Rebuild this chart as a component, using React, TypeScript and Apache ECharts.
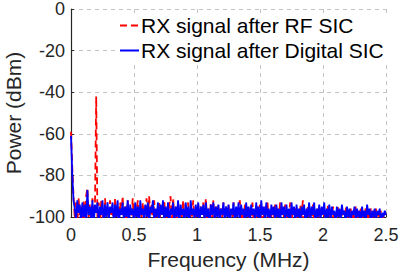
import React, { useEffect, useRef } from "react";
import * as echarts from "echarts";

// Frequency sample spacing (MHz) of both traces; first sample at 0 MHz
const freqStep = 0.01;

const xTicks = ["0", "0.5", "1", "1.5", "2", "2.5"];
const yTicks = ["0", "-20", "-40", "-60", "-80", "-100"];

const seriesNames = ["RX signal after RF SIC", "RX signal after Digital SIC"];

// RX signal after RF SIC (dBm), one value per 0.01 MHz, 0 .. 2.5 MHz
const rfSic = [
  -59, -76, -90, -101, -93, -104, -91, -99, -95, -103,
  -92, -102, -90, -86, -100, -94, -105, -91, -99, -96,
  -42, -101, -93, -104, -92, -98, -103, -91, -100, -95,
  -103, -92, -99, -94, -106, -91, -100, -96, -102, -93,
  -99, -90, -104, -95, -101, -92, -103, -97, -100, -91,
  -105, -94, -99, -92, -102, -96, -100, -93, -104, -95,
  -91, -103, -90, -99, -94, -105, -92, -101, -96, -100,
  -93, -104, -95, -99, -92, -102, -97, -100, -94, -90,
  -103, -91, -99, -95, -104, -93, -101, -96, -100, -92,
  -102, -94, -99, -93, -105, -96, -100, -92, -103, -97,
  -100, -94, -102, -95, -99, -93, -104, -91, -101, -96,
  -103, -93, -100, -92, -105, -95, -99, -94, -102, -96,
  -100, -93, -104, -95, -99, -94, -102, -97, -100, -93,
  -104, -96, -100, -95, -92, -101, -97, -103, -94, -100,
  -95, -102, -96, -100, -93, -104, -97, -101, -95, -99,
  -94, -103, -96, -100, -95, -102, -93, -104, -97, -100,
  -95, -101, -94, -103, -96, -100, -93, -105, -96, -100,
  -94, -102, -97, -99, -93, -104, -96, -100, -95, -101,
  -96, -103, -94, -100, -92, -104, -97, -100, -95, -102,
  -96, -100, -94, -103, -97, -101, -95, -104, -96, -100,
  -95, -102, -97, -100, -94, -103, -96, -100, -95, -102,
  -97, -101, -95, -104, -96, -100, -97, -103, -95, -101,
  -97, -100, -96, -104, -98, -101, -95, -103, -97, -100,
  -96, -102, -98, -100, -95, -104, -97, -101, -96, -103,
  -97, -100, -96, -102, -98, -101, -97, -103, -99, -100,
  -98,
];

// RX signal after Digital SIC (dBm), one value per 0.01 MHz, 0 .. 2.5 MHz
const digitalSic = [
  -61, -79, -92, -96, -102, -92, -98, -94, -103, -93,
  -100, -94, -104, -87, -99, -95, -101, -92, -104, -94,
  -98, -93, -103, -95, -99, -92, -104, -94, -100, -93,
  -101, -95, -98, -93, -103, -94, -100, -92, -104, -96,
  -99, -93, -102, -95, -100, -92, -104, -94, -99, -96,
  -103, -93, -100, -95, -104, -92, -99, -96, -101, -94,
  -100, -93, -104, -95, -98, -92, -102, -96, -100, -93,
  -102, -94, -99, -92, -103, -95, -100, -93, -104, -96,
  -99, -93, -102, -95, -100, -92, -104, -94, -99, -96,
  -103, -93, -100, -95, -104, -92, -99, -96, -101, -94,
  -100, -93, -103, -95, -99, -94, -102, -93, -100, -96,
  -104, -94, -99, -93, -102, -95, -100, -94, -103, -96,
  -99, -93, -102, -95, -100, -94, -104, -96, -99, -93,
  -103, -95, -100, -93, -102, -94, -99, -96, -104, -93,
  -100, -95, -103, -94, -99, -96, -102, -93, -100, -95,
  -104, -92, -99, -95, -102, -93, -100, -96, -103, -94,
  -99, -95, -102, -94, -100, -96, -104, -93, -99, -95,
  -102, -94, -100, -96, -103, -93, -99, -95, -104, -94,
  -100, -96, -102, -95, -99, -94, -103, -96, -100, -93,
  -102, -95, -99, -93, -104, -96, -100, -94, -102, -95,
  -99, -93, -103, -96, -100, -94, -102, -95, -99, -97,
  -103, -95, -100, -96, -102, -94, -99, -97, -104, -95,
  -100, -96, -103, -97, -99, -95, -102, -96, -100, -97,
  -103, -95, -100, -97, -102, -94, -99, -96, -104, -97,
  -100, -96, -102, -97, -99, -96, -103, -98, -100, -97,
  -99,
];

const FONT = "'Liberation Sans', Arial, Helvetica, sans-serif";
const TXT = "#262626";

function toPairs(vals: number[]): [number, number][] {
  return vals.map((v, i) => [Number((i * freqStep).toFixed(4)), v]);
}

export default function App() {
  const ref = useRef<HTMLDivElement>(null);

  useEffect(() => {
    if (!ref.current) return;
    const chart = echarts.init(ref.current, undefined, { renderer: "svg" });
    const xMax = Number(xTicks[xTicks.length - 1]);
    const xInt = Number(xTicks[1]) - Number(xTicks[0]);
    const yMin = Number(yTicks[yTicks.length - 1]);
    const yMax = Number(yTicks[0]);
    const yInt = Math.abs(Number(yTicks[1]) - Number(yTicks[0]));

    chart.setOption({
      animation: false,
      backgroundColor: "#ffffff",
      textStyle: { fontFamily: FONT },
      grid: {
        left: 71,
        right: 13,
        top: 9,
        bottom: 56,
        containLabel: false,
        outerBoundsMode: "none",
      },
      legend: {
        data: seriesNames,
        orient: "vertical",
        left: 119,
        top: 13,
        padding: [2, 6, 2, 0],
        itemWidth: 19,
        itemHeight: 14,
        itemGap: 4,
        backgroundColor: "#ffffff",
        itemStyle: { color: "transparent", borderColor: "transparent", borderWidth: 0 },
        textStyle: {
          fontSize: 21,
          color: "#000",
          fontFamily: FONT,
          lineHeight: 21,
          padding: [0, 0, 0, -3],
        },
      },
      xAxis: {
        type: "value",
        min: 0,
        max: xMax,
        interval: xInt,
        name: "Frequency (MHz)",
        nameLocation: "middle",
        nameGap: 32,
        nameMoveOverlap: false,
        nameTextStyle: { fontSize: 21, color: TXT, fontFamily: FONT, lineHeight: 21 },
        axisLine: { show: true, onZero: false, lineStyle: { color: TXT, width: 1.2 } },
        axisTick: { show: true, inside: true, length: 3, lineStyle: { color: TXT } },
        axisLabel: { fontSize: 18, color: TXT, margin: 9, fontFamily: FONT, lineHeight: 18 },
        splitLine: { show: true, lineStyle: { color: "#c4c4c4", type: [4, 4], width: 1 } },
      },
      yAxis: {
        type: "value",
        min: yMin,
        max: yMax,
        interval: yInt,
        name: "Power (dBm)",
        nameLocation: "middle",
        nameGap: 47,
        nameMoveOverlap: false,
        nameTextStyle: { fontSize: 21, color: TXT, fontFamily: FONT, lineHeight: 21 },
        axisLine: { show: true, onZero: false, lineStyle: { color: TXT, width: 1.2 } },
        axisTick: { show: true, inside: true, length: 3, lineStyle: { color: TXT } },
        axisLabel: { fontSize: 18, color: TXT, margin: 6, fontFamily: FONT, lineHeight: 18 },
        splitLine: { show: true, lineStyle: { color: "#c4c4c4", type: [4, 4], width: 1 } },
      },
      series: [
        {
          name: seriesNames[0],
          type: "line",
          data: toPairs(rfSic),
          showSymbol: false,
          symbol: "none",
          clip: true,
          lineStyle: { color: "#ff0000", width: 1.8, type: [7, 4] },
          itemStyle: { color: "#ff0000" },
        },
        {
          name: seriesNames[1],
          type: "line",
          data: toPairs(digitalSic),
          showSymbol: false,
          symbol: "none",
          clip: true,
          lineStyle: { color: "#0000ff", width: 1.8 },
          itemStyle: { color: "#0000ff" },
        },
      ],
    });
    return () => chart.dispose();
  }, []);

  return (
    <div
      ref={ref}
      style={{ width: 399, height: 273, position: "absolute", left: 0, top: 0 }}
    />
  );
}
